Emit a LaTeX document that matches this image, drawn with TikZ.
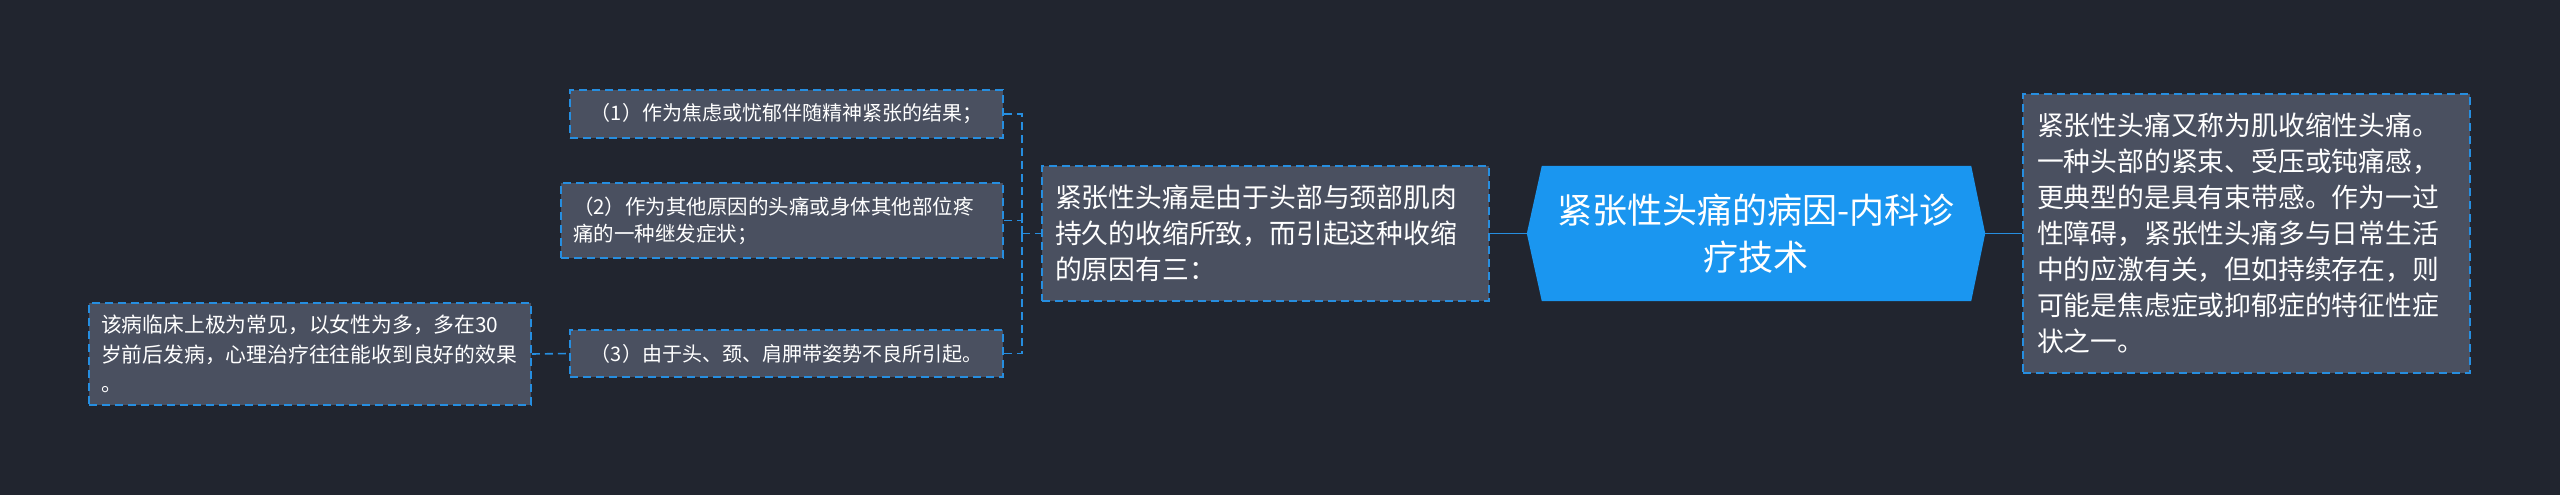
\documentclass[tikz,border=0pt]{standalone}
\usepackage{fontspec}
\setmainfont{Noto Sans CJK SC}
\usetikzlibrary{calc}
\definecolor{bgc}{RGB}{33,37,47}
\definecolor{boxc}{RGB}{74,80,96}
\definecolor{linec}{RGB}{38,142,224}
\definecolor{hexc}{RGB}{26,150,240}
\tikzset{
  box/.style={draw=linec, line width=1.6pt, dash pattern=on 8pt off 5pt, fill=boxc, text=white, align=left, inner ysep=0pt, anchor=center},
  conn/.style={draw=linec, line width=1.6pt},
  dconn/.style={draw=linec, line width=1.6pt, dash pattern=on 8pt off 5pt},
}
\begin{document}
\begin{tikzpicture}[x=1pt,y=-1pt]
\fill[bgc] (0,0) rectangle (2560,495);
\useasboundingbox (0,0) rectangle (2560,495);

% main hexagon
\node[text=white, align=center, minimum width=458pt, minimum height=135pt, inner sep=0pt] (hex) at (1756,233.5) {};
\fill[hexc] ($(hex.north west)+(15,0)$) -- ($(hex.north east)+(-14,0)$) -- (hex.east) -- ($(hex.south east)+(-14,0)$) -- ($(hex.south west)+(15,0)$) -- (hex.west) -- cycle;
\node[text=white, align=center, font=\fontsize{35}{47}\selectfont] (hext) at (hex.center) {紧张性头痛的病因-内科诊\\疗技术};

% left box
\node[box, text width=421pt, inner xsep=13pt, minimum height=135pt, font=\fontsize{26.8}{36}\selectfont] (lb) at (1265.5,233.5)
 {紧张性头痛是由于头部与颈部肌肉\\持久的收缩所致，而引起这种收缩\\的原因有三：};

% right box
\node[box, text width=419pt, inner xsep=14pt, minimum height=279pt, font=\fontsize{26.8}{36}\selectfont] (rb) at (2246.5,233.5)
 {紧张性头痛又称为肌收缩性头痛。\\一种头部的紧束、受压或钝痛感，\\更典型的是具有束带感。作为一过\\性障碍，紧张性头痛多与日常生活\\中的应激有关，但如持续存在，则\\可能是焦虑症或抑郁症的特征性症\\状之一。};

% small boxes
\node[box, align=center, minimum width=433pt, minimum height=48pt, inner xsep=0pt, font=\fontsize{20}{27}\selectfont] (b1) at (786.5,114)
 {（1）作为焦虑或忧郁伴随精神紧张的结果；};
\node[box, text width=418pt, inner xsep=12pt, minimum height=75pt, font=\fontsize{20.5}{27}\selectfont] (b2) at (782,220.5)
 {（2）作为其他原因的头痛或身体其他部位疼\\痛的一种继发症状；};
\node[box, align=center, minimum width=433pt, minimum height=47pt, inner xsep=0pt, font=\fontsize{20}{27}\selectfont] (b3) at (786.5,353.5)
 {（3）由于头、颈、肩胛带姿势不良所引起。};
\node[box, text width=418pt, inner xsep=12pt, minimum height=102pt, font=\fontsize{20.8}{29.5}\selectfont] (fl) at (310,354)
 {该病临床上极为常见，以女性为多，多在30\\岁前后发病，心理治疗往往能收到良好的效果\\。};

% connectors
\coordinate (jn) at (1022,233.5);
\draw[conn] (lb.east) -- (hex.west);
\draw[conn] (hex.east) -- (rb.west);
\draw[dconn] (b1.east) -| (jn);
\draw[dconn] (b2.east) -| (jn);
\draw[dconn] (b3.east) -| (jn);
\draw[dconn] (jn) -- (lb.west);
\draw[dconn] (fl.east) -- (b3.west);
\end{tikzpicture}
\end{document}
